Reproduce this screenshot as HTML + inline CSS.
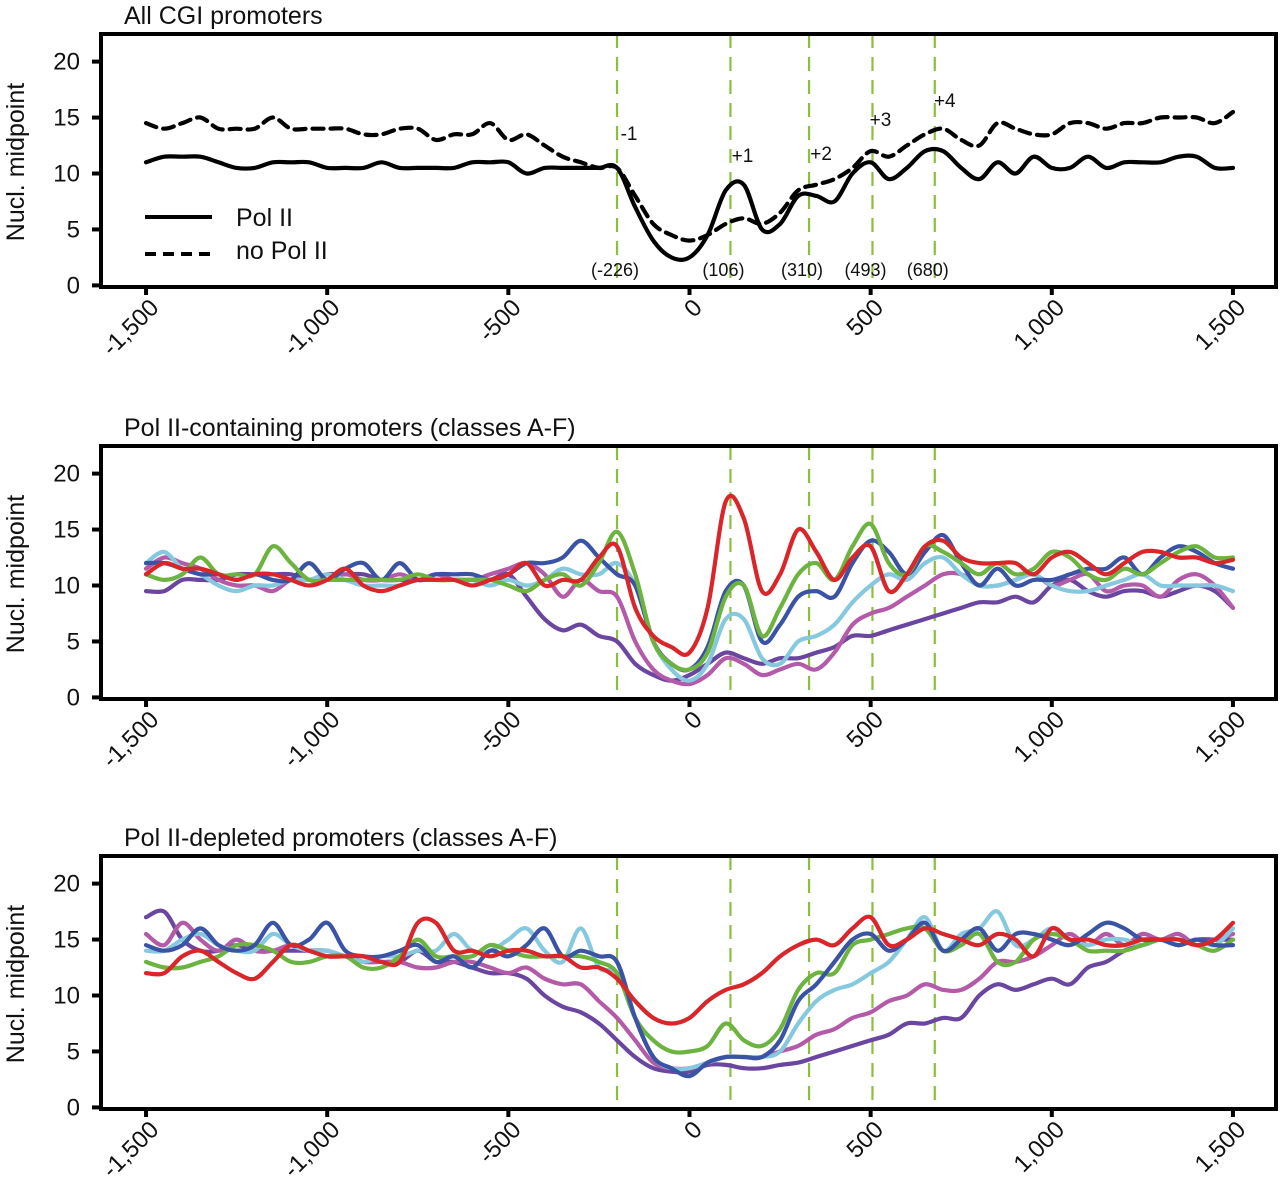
<!DOCTYPE html>
<html><head><meta charset="utf-8"><style>
html,body{margin:0;padding:0;background:#fff}
svg{display:block}
text{font-family:"Liberation Sans",Arial,sans-serif;fill:#111}
</style></head><body>
<svg id="chart" width="1280" height="1190" viewBox="0 0 1280 1190" xmlns="http://www.w3.org/2000/svg"></svg>
<script>
const xPositions = [];
for (let i = 0; i <= 60; i++) xPositions.push(-1500 + 50 * i);
const xTickValues = [-1500,-1000,-500,0,500,1000,1500];
const xTickLabels = ["-1,500","-1,000","-500","0","500","1,000","1,500"];
const yTickValues = [0,5,10,15,20];
const nucleosomeLines = [-200,113,330,505,677];
const nucleosomeLabels = ["(-226)","(106)","(310)","(493)","(680)"];
const nucleosomeNames = ["-1","+1","+2","+3","+4"];

const p1PolII = [11,11.5,11.5,11.5,11,10.5,10.5,11,11,11,10.5,10.5,10.5,11,10.5,10.5,10.5,10.5,11,11,11,10,10.5,10.5,10.5,10.5,10.5,7,4,2.5,2.5,4.5,8.5,9,5,5.5,8,8,7.5,10,11,9.5,10.5,12,12,10.5,9.5,11,10,11.5,10.5,10.5,11.5,10.5,11,11,11,11.5,11.5,10.5,10.5];
const p1NoPolII = [14.5,14,14.5,15,14,14,14,15,14,14,14,14,13.5,13.5,14,14,13,13.5,13.5,14.5,13,13.5,12.5,11.5,11,10.5,10.5,8,5.5,4.5,4,4.5,5.5,6,5.5,6.5,8.5,9,9.5,10.5,12,11.5,12.5,13.5,14,13,12.5,14.5,14,13.5,13.5,14.5,14.5,14,14.5,14.5,15,15,15,14.5,15.5];

const p2Red = [11,12,11.5,11.5,11,10.5,11,11,10.5,10,10.5,11.5,10,9.5,10,10.5,10.5,10.5,10,10.5,11,12,10,10.5,10.5,12.5,13.5,8,5.5,4.5,4,8,17.5,16,9.5,11,15,13,10.5,12.5,13.5,9.5,11,13.5,14,12.5,12,12,12,11,12.5,13,12,11,12,13,13,12.5,12.5,12,12.3];
const p2Green = [11,10.5,11,12.5,11,11,11,13.5,12,10.5,10.5,10.5,10.5,10.5,10.5,11,10.5,10.5,10.5,10.5,10,9.5,10.5,11,10,12,14.8,11,5,3,2.5,4,9,10,5.5,8,11,12,10.5,13.5,15.5,12,11,13.5,13,12,11,12,11,11.5,13,12.5,11,10.5,11.5,11,12,13,13.5,12.5,12.5];
const p2Blue = [12,12,11.5,11,11,10.5,11,10.5,10.5,12,10.5,11.5,12,10.5,12,10.5,11,11,11,10.5,11,12,12,12.5,14,12.5,11,10,5,3,2.5,4.5,9.5,10,5,6.5,9,9.5,9,12,14,13,11,13,14.5,12,10,11.5,10,10.5,10.5,11,11.5,11.5,12.5,11,12.5,13.5,13,12,11.5];
const p2LightBlue = [12,13,11.5,11,10,9.5,10,10,10.5,10.5,11,10.5,10,10,10,10.5,10.5,10.5,10.5,10,10.5,10,10.5,11.5,11,11,12,10,5,2.5,1.5,3,7,7,3.5,3,5,5.5,6.5,8.5,10,11,10.5,12,12.5,11,10,10,10.5,11,10,9.5,9.5,10,10.5,11,10,10,10,10,9.5];
const p2Magenta = [11.5,12.5,12,11.5,10.5,10,10,9.5,10.5,10.5,10.5,11,10.5,10.5,11,10.5,11,10.5,10.5,11,11.5,12,11,9,10.5,9.5,9,5,2.5,1.5,1.2,2,3.5,3,2,2.5,3,2.5,4,6.5,7.5,8,9,10,11,11,10,10,10.5,11,10,10.5,11,9.5,10,10,9,10.5,11,10,8];
const p2Purple = [9.5,9.5,10.5,10.5,10.5,11,11,11,11,10.5,11,11,11,10.5,10.5,10.5,10.5,10.5,10.5,10.5,11,9,7,6,6.5,5.5,5,3,2,1.5,2,3,4,3.5,3,3.5,3.5,4,4.5,5.5,5.5,6,6.5,7,7.5,8,8.5,8.5,9,8.5,10,10.5,9.5,9,9.5,9.5,9,9.5,10,9.5,8];

const p3Red = [12,12,13.5,14,13,12,11.5,13,14.5,14,13.5,13.5,13.5,13,13,16.5,16.5,14,14,13.5,14,14,13.5,13.5,12.5,12.5,11.5,9.5,8,7.5,8,9.5,10.5,11,12,13.5,14.5,15,14.5,16,17,14.5,15,16,15.5,15,14.5,15.5,15,13.5,16,15,15,14.5,14.5,15,15,15,14.5,15,16.5];
const p3Green = [13,12.5,12.5,13,13.5,14.5,14.5,14,13,13,13.5,13.5,12.5,12.5,13.5,15,13.5,13.5,13.5,14.5,14,13.5,13.5,13.5,13.5,13,12,8,6,5,5,5.5,7.5,6,5.5,7,10.5,12,12,14.5,15,15.5,16,16,14,14.5,15.5,13,13,15,15.5,15,14,14,14,14.5,15,15,14.5,14,15];
const p3Blue = [14.5,14,14.5,16,14.5,14,14.5,16.5,14.5,15,16.5,14,13.5,13.5,14,14.5,13,13.5,12.5,14,13.5,14.5,16,13.5,14,13.5,13,8,4.5,3.5,2.8,4,4.5,4.5,4.5,6,9.5,11,13,15,15.5,14,15,16.5,14,15,16,14,15.5,15.5,15,14.5,15.5,16.5,16,15,15,14.5,15,14.5,14.5];
const p3LightBlue = [14,14,15,15.5,14.5,14,14,15.5,14.5,14,14,13.5,13,13.5,13.5,14,14,15.5,14,14,15,16,14,13,16,12.5,12,8,4.5,3.5,3.5,4,4.5,4.5,4.5,5,7.5,9.5,10.5,11,12,13,15,17,14,15.5,16,17.5,14.5,15,16,15,14.5,15,15,14.5,15,14.5,15,14.5,16];
const p3Magenta = [15.5,14.5,16.5,15,14,15,14,14,14.5,14,13.5,13.5,13,13,13,12.5,12.5,13,13,12.5,12,12.5,11.5,11,11,9.5,8,6,4,3.5,3.5,4,4.5,4.5,4.5,5,5.5,6.5,7,8,8.5,9.5,10,11,10.5,10.5,11.5,13,13,13.5,14.5,15.5,14.5,15.5,14.5,15.5,15,15.5,14.5,15,15.5];
const p3Purple = [17,17.5,15,14,14,14.5,14,14,14,14,14,13.5,13.5,13,13,14,13,13,12.5,12,12,11.5,10,9,8.5,7.5,6,4.5,3.5,3.2,3.2,3.8,3.8,3.5,3.5,3.8,4,4.5,5,5.5,6,6.5,7.5,7.5,8,8,10,11,10.5,11,11.5,11,12.5,13,14,14.5,15,14.5,15,15,15];

const NS = "http://www.w3.org/2000/svg";
const svg = document.getElementById("chart");
const X0 = 101, X1 = 1276;
function xScale(v){ return 689.5 + v * 0.3623; }
function mk(tag, attrs, parent){
  const e = document.createElementNS(NS, tag);
  for (const k in attrs) e.setAttribute(k, attrs[k]);
  (parent || svg).appendChild(e);
  return e;
}
function smoothPath(pts){
  let d = "M" + pts[0][0].toFixed(1) + "," + pts[0][1].toFixed(1);
  for (let i = 0; i < pts.length - 1; i++){
    const p0 = pts[i-1] || pts[i], p1 = pts[i], p2 = pts[i+1], p3 = pts[i+2] || p2;
    const c1x = p1[0] + (p2[0]-p0[0])/6, c1y = p1[1] + (p2[1]-p0[1])/6;
    const c2x = p2[0] - (p3[0]-p1[0])/6, c2y = p2[1] - (p3[1]-p1[1])/6;
    d += "C" + c1x.toFixed(1)+","+c1y.toFixed(1)+" "+c2x.toFixed(1)+","+c2y.toFixed(1)+" "+p2[0].toFixed(1)+","+p2[1].toFixed(1);
  }
  return d;
}

function drawPanel(idx, top, title, series){
  const g = mk("g", {});
  
  
  const bottom = top + 253;
  const yScale = v => bottom - 1.6 - v * 11.19;

  const t = mk("text", {x: 124, y: top - 10, "font-size": 25}, g);
  t.textContent = title;
  
  

  const yt = mk("text", {x: 0, y: 0, "font-size": 25, "text-anchor": "middle", transform: "translate(24," + (top + 128) + ") rotate(-90)"}, g);
  yt.textContent = "Nucl. midpoint";
  
  

  nucleosomeLines.forEach(v => {
    const l = mk("line", {x1: xScale(v), x2: xScale(v), y1: top, y2: bottom, stroke: "#8cbf3f", "stroke-width": 2.2, "stroke-dasharray": "14,9"}, g);
    
    
  });

  series.forEach(s => {
    const pts = s.values.map((v, i) => [xScale(xPositions[i]), yScale(v)]);
    const p = mk("path", {d: smoothPath(pts), fill: "none", stroke: s.color, "stroke-width": 4.2, "stroke-linejoin": "round", "stroke-linecap": "round"}, g);
    if (s.dash) p.setAttribute("stroke-dasharray", s.dash);
    
    
  });

  const box = mk("rect", {x: X0, y: top, width: X1 - X0, height: bottom - top, fill: "none", stroke: "#000", "stroke-width": 4}, g);
  
  

  yTickValues.forEach(v => {
    const y = yScale(v);
    const tk = mk("line", {x1: 92, x2: X0, y1: y, y2: y, stroke: "#000", "stroke-width": 4}, g);
    
    
    const lb = mk("text", {x: 80, y: y + 8, "font-size": 24, "text-anchor": "end"}, g);
    lb.textContent = v;
    
    
  });
  xTickValues.forEach((v, i) => {
    const x = xScale(v);
    const tk = mk("line", {x1: x, x2: x, y1: bottom, y2: bottom + 8, stroke: "#000", "stroke-width": 4}, g);
    
    
    const lb = mk("text", {x: 0, y: 0, "font-size": 24, "text-anchor": "end", transform: "translate(" + (x + 14) + "," + (bottom + 22) + ") rotate(-45)"}, g);
    lb.textContent = xTickLabels[i];
    
    
  });
  return {g, yScale, bottom};
}

drawPanel(0, 34, "All CGI promoters", [
  {name: "pol-ii-line", values: p1PolII, color: "#000"},
  {name: "no-pol-ii-line", values: p1NoPolII, color: "#000", dash: "11,7"}
]);
const nameOffsets = [[12,140],[12,162],[12,160],[8,126],[10,107]];
nucleosomeLines.forEach((v, i) => {
  const t = mk("text", {x: xScale(v) + nameOffsets[i][0], y: nameOffsets[i][1], "font-size": 19, "text-anchor": "middle"});
  t.textContent = nucleosomeNames[i];
  
  
  const p = mk("text", {x: xScale(v) - 2 + (i===0?0:-5), y: 276, "font-size": 18, "text-anchor": "middle"});
  p.textContent = nucleosomeLabels[i];
  
  
});
const lg1 = mk("line", {x1: 145, x2: 212, y1: 217, y2: 217, stroke: "#000", "stroke-width": 4});


const lt1 = mk("text", {x: 236, y: 226, "font-size": 25});
lt1.textContent = "Pol II";


const lg2 = mk("line", {x1: 145, x2: 212, y1: 254, y2: 254, stroke: "#000", "stroke-width": 4, "stroke-dasharray": "11,7"});


const lt2 = mk("text", {x: 236, y: 259, "font-size": 25});
lt2.textContent = "no Pol II";



const colors = {red:"#d9262b", green:"#6cb33f", blue:"#3a53a4", lightblue:"#86c9df", magenta:"#b35aa8", purple:"#6b46a0"};
drawPanel(1, 446, "Pol II-containing promoters (classes A-F)", [
  {name: "class-purple-line", values: p2Purple, color: colors.purple},
  {name: "class-magenta-line", values: p2Magenta, color: colors.magenta},
  {name: "class-lightblue-line", values: p2LightBlue, color: colors.lightblue},
  {name: "class-blue-line", values: p2Blue, color: colors.blue},
  {name: "class-green-line", values: p2Green, color: colors.green},
  {name: "class-red-line", values: p2Red, color: colors.red}
]);
drawPanel(2, 856, "Pol II-depleted promoters (classes A-F)", [
  {name: "class-purple-line", values: p3Purple, color: colors.purple},
  {name: "class-magenta-line", values: p3Magenta, color: colors.magenta},
  {name: "class-lightblue-line", values: p3LightBlue, color: colors.lightblue},
  {name: "class-green-line", values: p3Green, color: colors.green},
  {name: "class-blue-line", values: p3Blue, color: colors.blue},
  {name: "class-red-line", values: p3Red, color: colors.red}
]);
</script>
</body></html>
